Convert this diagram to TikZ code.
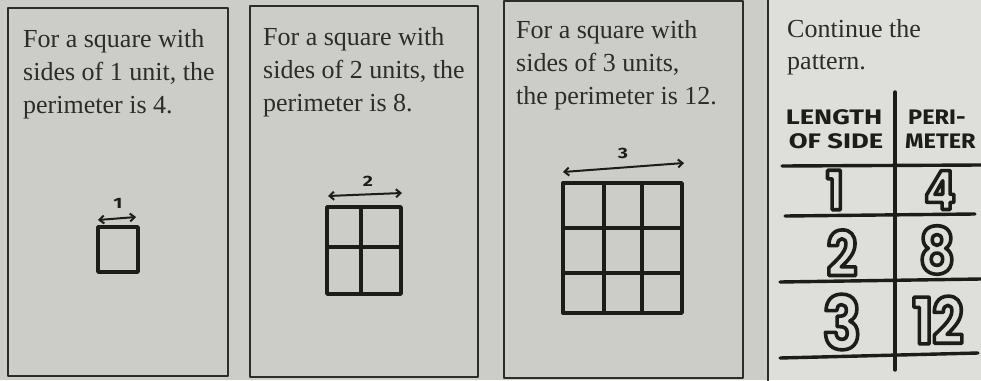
\documentclass[tikz,border=0pt]{standalone}
\usepackage{fontspec}
\setmainfont{Liberation Serif}
\newfontfamily\handfont[FakeStretch=1.3]{Fira Sans}
\newfontfamily\handfontn[FakeStretch=1.12]{Fira Sans}
\newfontfamily\bubblefont[FakeStretch=0.86]{Poppins}
\usetikzlibrary{arrows.meta}
\definecolor{paper}{RGB}{204,204,201}
\definecolor{paperlight}{RGB}{222,222,219}
\definecolor{ink}{RGB}{28,28,26}
\definecolor{print}{RGB}{44,44,42}
% hollow hand-drawn digits: glyph outline stroked only
\newcommand\bubble[1]{%
  \special{pdf:literal direct 3.6 w 1 Tr}#1\special{pdf:literal direct 0 Tr}}

\begin{document}
\begin{tikzpicture}[x=1pt,y=-1pt,line cap=round,line join=round,
  frame/.style={draw=print,line width=1.1pt},
  txt/.style={anchor=base west,inner sep=0pt,text=print,font=\fontsize{26}{33}\selectfont},
  hand/.style={draw=ink,line width=3.4pt},
  dim/.style={draw=ink,line width=2pt,{Straight Barb[length=4.5pt,width=8pt]}-{Straight Barb[length=4.5pt,width=8pt]}},
  dimlabel/.style={inner sep=0pt,text=ink,font=\handfont\bfseries\fontsize{15}{15}\selectfont},
  head/.style={inner sep=0pt,text=ink,font=\handfont\bfseries\fontsize{21}{21}\selectfont},
  headn/.style={inner sep=0pt,anchor=west,text=ink,font=\handfontn\bfseries\fontsize{21}{21}\selectfont},
  digit/.style={inner sep=0pt,text=ink,font=\bubblefont\bfseries\fontsize{#1}{#1}\selectfont}]
\useasboundingbox (0,0) rectangle (981,380);
\fill[paper] (0,0) rectangle (981,380);
\fill[paperlight] (768,0) rectangle (981,380);
% ---------- (a) side 1 ----------
\draw[frame] (8,8) rectangle (228,376);
\node[txt] (a1) at (23,47) {For a square with};
\node[txt] (a2) at (23,80) {sides of 1 unit, the};
\node[txt] (a3) at (23,113) {perimeter is 4.};
\draw[hand] (98,227) rectangle (138,272);
\coordinate (aL) at (98,220);
\coordinate (aR) at (136,217);
\draw[dim] (aL) -- (aR);
\node[dimlabel] (aN) at (118,203) {1};
% ---------- (b) side 2 ----------
\draw[frame] (250,6) rectangle (478,377);
\node[txt] (b1) at (263,45) {For a square with};
\node[txt] (b2) at (263,78) {sides of 2 units, the};
\node[txt] (b3) at (263,111) {perimeter is 8.};
\draw[hand] (327,207) rectangle (401,294)
  (361,207) -- (361,294)  (327,247) -- (401,247);
\coordinate (bL) at (328,196);
\coordinate (bR) at (402,193);
\draw[dim] (bL) -- (bR);
\node[dimlabel] (bN) at (368,181) {2};
% ---------- (c) side 3 ----------
\draw[frame] (504,1) rectangle (743,378);
\node[txt] (c1) at (516,38) {For a square with};
\node[txt] (c2) at (516,71) {sides of 3 units,};
\node[txt] (c3) at (516,104) {the perimeter is 12.};
\draw[hand] (563,183) rectangle (682,313);
\foreach \x in {604,642}{
  \draw[hand] (\x,183) -- (\x,313);
}
\foreach \y in {228,273}{
  \draw[hand] (563,\y) -- (682,\y);
}
\coordinate (cL) at (563,172);
\coordinate (cR) at (684,163);
\draw[dim] (cL) -- (cR);
\node[dimlabel] (cN) at (623,153) {3};
% ---------- (d) table ----------
\draw[frame] (768,-5) -- (768,385);
\node[txt] (d1) at (787,37) {Continue the};
\node[txt] (d2) at (787,69) {pattern.};
\draw[hand] (895,92) -- (895,370);
\draw[hand] (782,166) -- (981,165);
\draw[hand] (785,216) -- (975,214);
\draw[hand] (780,282) -- (981,279);
\draw[hand] (780,358) -- (978,353);
\node[head] (hL) at (834,117) {LENGTH};
\node[head] (hO) at (836,141) {OF SIDE};
\node[headn] (hP) at (908,117) {PERI-};
\node[headn] (hM) at (905,141) {METER};
\node[digit=54] (n1) at (835,190) {\bubble{1}};
\node[digit=54] (p1) at (940,190) {\bubble{4}};
\node[digit=62] (n2) at (842,253) {\bubble{2}};
\node[digit=64] (p2) at (937,250) {\bubble{8}};
\node[digit=74] (n3) at (842,322) {\bubble{3}};
\node[digit=64] (p3) at (938,320) {\bubble{1\kern-1pt 2}};
\end{tikzpicture}
\end{document}
